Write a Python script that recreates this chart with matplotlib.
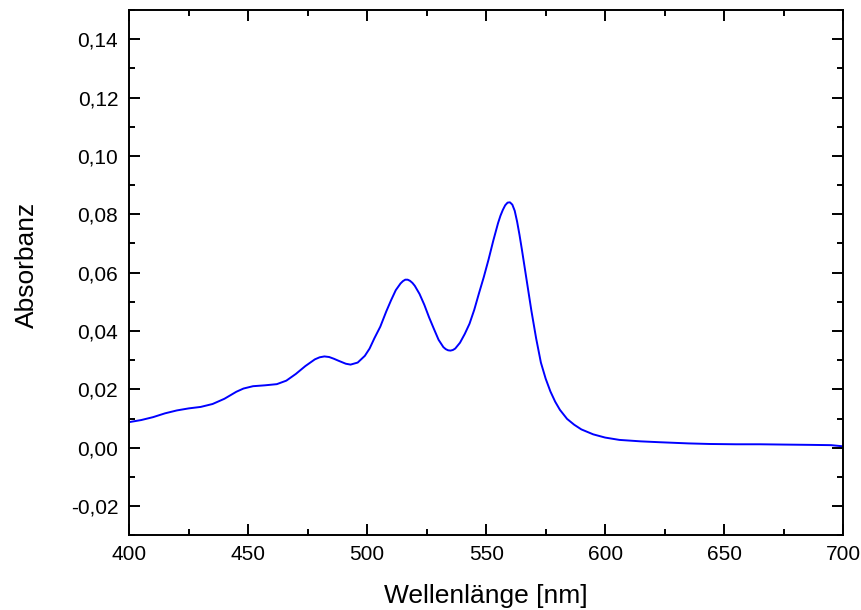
import matplotlib
matplotlib.use('Agg')
import matplotlib.pyplot as plt
from matplotlib.ticker import MultipleLocator, FuncFormatter

# absorption spectrum
wavelength = [400, 405, 410, 415, 420, 425, 430, 435, 440, 445, 448, 452, 457, 462,
              466, 470, 474, 478, 480, 482, 484, 486, 488, 491, 493, 496, 499, 501,
              503, 505.5, 508, 510, 512, 514, 515, 516, 517, 518, 519, 520, 522, 524,
              526, 528, 530, 532, 533, 534, 535, 536, 537, 539, 541, 543, 545, 547,
              549, 551, 553, 555, 556, 557, 558, 559, 560, 561, 562, 563, 564, 565,
              567, 569, 571, 573, 575, 577, 579, 581, 584, 587, 590, 595, 600, 606,
              615, 623, 635, 644, 655, 665, 675, 686, 695, 700]
absorbance = [0.0088, 0.0095, 0.0105, 0.0118, 0.0128, 0.0135, 0.0140, 0.0150, 0.0168,
              0.0192, 0.0203, 0.0211, 0.0214, 0.0218, 0.0230, 0.0253, 0.0280, 0.0303,
              0.0310, 0.0313, 0.0311, 0.0305, 0.0298, 0.0288, 0.0285, 0.0292, 0.0315,
              0.0340, 0.0375, 0.0415, 0.0467, 0.0505, 0.0540, 0.0563, 0.0571, 0.0576,
              0.0576, 0.0572, 0.0565, 0.0555, 0.0527, 0.0490, 0.0447, 0.0408, 0.0370,
              0.0345, 0.0338, 0.0334, 0.0333, 0.0335, 0.0340, 0.0360, 0.0390, 0.0425,
              0.0473, 0.0530, 0.0585, 0.0645, 0.0710, 0.0770, 0.0795, 0.0815, 0.0831,
              0.0840, 0.0841, 0.0833, 0.0812, 0.0775, 0.0730, 0.0680, 0.0575, 0.0470,
              0.0375, 0.0292, 0.0237, 0.0193, 0.0158, 0.0130, 0.0099, 0.0079, 0.0063,
              0.0046, 0.0035, 0.0027, 0.0022, 0.0019, 0.0015, 0.0013, 0.0012, 0.0012,
              0.0011, 0.0010, 0.0009, 0.0005]

plt.rcParams['font.family'] = ['Liberation Sans', 'DejaVu Sans']

fig = plt.figure(figsize=(8.62, 6.10), dpi=100)
ax = fig.add_axes([0.150, 0.1224, 0.828, 0.8612])

ax.plot(wavelength, absorbance, color='#0000ff', linewidth=1.4)

ax.set_xlim(400, 700)
ax.set_ylim(-0.03, 0.15)
ax.xaxis.set_major_locator(MultipleLocator(50))
ax.xaxis.set_minor_locator(MultipleLocator(25))
ax.yaxis.set_major_locator(MultipleLocator(0.02))
ax.yaxis.set_minor_locator(MultipleLocator(0.01))
ax.yaxis.set_major_formatter(FuncFormatter(lambda v, p: ('%.2f' % v).replace('.', ',').replace('-0,00', '0,00')))

for s in ax.spines.values():
    s.set_linewidth(1.4)
ax.tick_params(which='both', direction='in', top=True, right=True, width=1.4, labelsize=15)
ax.tick_params(which='major', length=7.7)
ax.tick_params(which='minor', length=4)
ax.tick_params(axis='x', pad=7)
ax.tick_params(axis='y', pad=8)

ax.set_xlabel('Wellenlänge [nm]', fontsize=19)
ax.set_ylabel('Absorbanz', fontsize=19)
ax.xaxis.set_label_coords(0.5, -0.093)
ax.yaxis.set_label_coords(-0.127, 0.514)

fig.savefig('out.png', dpi=100)
